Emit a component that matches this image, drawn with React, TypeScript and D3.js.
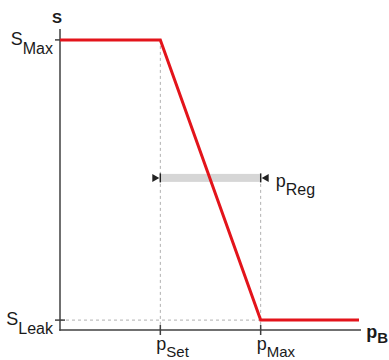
import React from "react";
import * as d3 from "d3";

// Characteristic: valve opening S versus inlet pressure pB
const pressurePoints = [0, 1, 2, 2.98]; // pB (relative units: pSet = 1, pMax = 2)
const openingPoints = [96.7, 96.7, 3.3, 3.3]; // S (% of scale)
const xTickValues = [1, 2];
const xTickLabels = [["p", "Set"], ["p", "Max"]];
const yTickValues = [96.7, 3.3];
const yTickLabels = [["S", "Max"], ["S", "Leak"]];
const regRange = [1, 2]; // pReg band between pSet and pMax
const regLevel = [50.7]; // S level for pReg band

const W = 389;
const H = 360;

export default function App() {
  const x = d3.scaleLinear().domain([0, 3]).range([60, 361]);
  const y = d3.scaleLinear().domain([0, 100]).range([330, 30]);
  const data = pressurePoints.map((p, i) => [p, openingPoints[i]] as [number, number]);
  const line = d3
    .line<[number, number]>()
    .x((d) => x(d[0]))
    .y((d) => y(d[1]));

  const axisColor = "#404040";
  const dashColor = "#b0b0b0";
  const textColor = "#1a1a1a";
  const font = "'Liberation Sans', Arial, sans-serif";
  const sLeakY = y(yTickValues[1]);
  const sMaxY = y(yTickValues[0]);
  const bandY = y(regLevel[0]);
  const x0 = x(regRange[0]);
  const x1 = x(regRange[1]);

  return (
    <svg
      width={W}
      height={H}
      style={{ position: "fixed", left: 0, top: 0, background: "#fff" }}
      fontFamily={font}
    >
      {/* dashed guides */}
      <line x1={x(xTickValues[0])} x2={x(xTickValues[0])} y1={sMaxY} y2={y(0)} stroke={dashColor} strokeWidth={1} strokeDasharray="3,3" />
      <line x1={x(xTickValues[1])} x2={x(xTickValues[1])} y1={bandY} y2={y(0)} stroke={dashColor} strokeWidth={1} strokeDasharray="3,3" />
      <line x1={x(0)} x2={x(xTickValues[1])} y1={sLeakY} y2={sLeakY} stroke={dashColor} strokeWidth={1} strokeDasharray="3,3" />

      {/* pReg band */}
      <rect x={x0 + 1} y={bandY - 4} width={x1 - x0 - 2} height={8} fill="#d6d6d6" />
      <path d={`M${x0 - 8},${bandY - 4} L${x0 - 1},${bandY} L${x0 - 8},${bandY + 4} Z`} fill="#222" />
      <line x1={x0} x2={x0} y1={bandY - 4.5} y2={bandY + 4.5} stroke="#222" strokeWidth={1.5} />
      <path d={`M${x1 + 8},${bandY - 4} L${x1 + 1},${bandY} L${x1 + 8},${bandY + 4} Z`} fill="#222" />
      <line x1={x1} x2={x1} y1={bandY - 4.5} y2={bandY + 4.5} stroke="#222" strokeWidth={1.5} />
      <text x={x1 + 15} y={bandY + 9} fill={textColor} fontSize={18}>
        p<tspan fontSize={16} dy={8}>Reg</tspan>
      </text>

      {/* axes */}
      <line x1={x(0)} x2={x(0)} y1={29} y2={y(0) + 0.75} stroke={axisColor} strokeWidth={1.5} />
      <line x1={x(0) - 0.75} x2={x(3)} y1={y(0)} y2={y(0)} stroke={axisColor} strokeWidth={1.5} />
      {yTickValues.map((v) => (
        <line key={"yt" + v} x1={x(0) - 5} x2={x(0) + 5} y1={y(v)} y2={y(v)} stroke={axisColor} strokeWidth={1.5} />
      ))}
      {xTickValues.map((v) => (
        <line key={"xt" + v} x1={x(v)} x2={x(v)} y1={y(0) - 5} y2={y(0) + 5} stroke={axisColor} strokeWidth={1.5} />
      ))}

      {/* characteristic line */}
      <path d={line(data) || ""} fill="none" stroke="#e3141b" strokeWidth={3} strokeLinejoin="miter" />

      {/* labels */}
      <text x={x(0) - 3} y={23} textAnchor="middle" fill={textColor} fontSize={15} fontWeight="bold">S</text>
      <text x={W - 1} y={y(0) + 8} textAnchor="end" fill={textColor} fontSize={18} fontWeight="bold">
        p<tspan fontSize={15} dy={5}>B</tspan>
      </text>
      {yTickValues.map((v, i) => (
        <text key={"yl" + v} x={x(0) - 7} y={y(v) + 5} textAnchor="end" fill={textColor} fontSize={18}>
          {yTickLabels[i][0]}
          <tspan fontSize={16} dy={9}>{yTickLabels[i][1]}</tspan>
        </text>
      ))}
      {xTickValues.map((v, i) => (
        <text key={"xl" + v} x={x(v) - 4} y={y(0) + 20} fill={textColor} fontSize={18}>
          {xTickLabels[i][0]}
          <tspan fontSize={15} dy={7}>{xTickLabels[i][1]}</tspan>
        </text>
      ))}
    </svg>
  );
}
